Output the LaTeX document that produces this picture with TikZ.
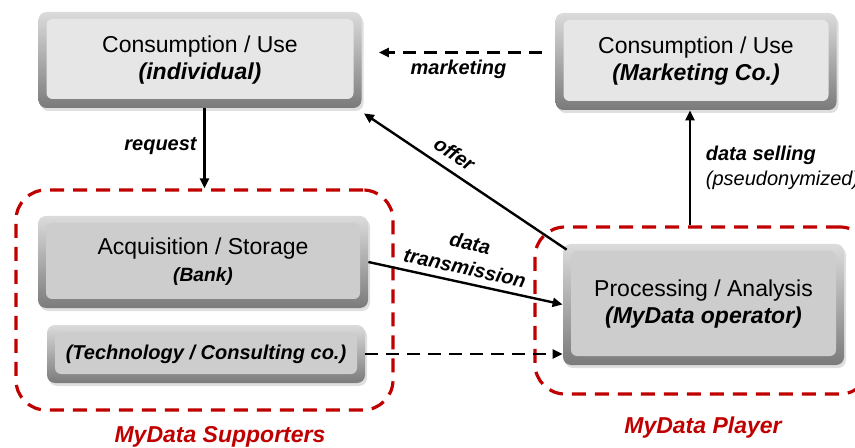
\documentclass[tikz,border=0pt]{standalone}
\usepackage{fontspec}
\setmainfont{Liberation Sans}
\usepackage{xcolor}
\definecolor{mdred}{HTML}{C00000}
\definecolor{faceA}{HTML}{E6E6E6}
\definecolor{faceB}{HTML}{CDCDCD}
\usetikzlibrary{shadows,arrows.meta}

\begin{document}
\begin{tikzpicture}[
    x=0.5pt, y=-0.5pt,
    box/.style={rounded corners=4pt, top color=black!14, bottom color=black!52, align=center,
        font=\fontsize{11.5}{13.5}\selectfont, inner sep=0pt,
        drop shadow={opacity=0.25, shadow xshift=1pt, shadow yshift=-1.5pt},
        path picture={\fill[#1, rounded corners=3pt]
            ([shift={(4pt,-3.5pt)}]path picture bounding box.north west) rectangle
            ([shift={(-4pt,4.5pt)}]path picture bounding box.south east);}},
    box/.default=faceB,
    grp/.style={draw=mdred, line width=1.6pt, dash pattern=on 7pt off 4.5pt, rounded corners=15pt},
    grplabel/.style={text=mdred, font=\fontsize{11.5}{14}\selectfont\bfseries\itshape},
    arr/.style={-{Triangle[length=5pt,width=4.5pt]}, line width=1.2pt},
    dsh/.style={dash pattern=on 6.5pt off 4pt},
    lbl/.style={font=\fontsize{10}{12.5}\selectfont\bfseries\itshape}
]
\useasboundingbox (0,0) rectangle (855,448);

% groups
\node[grp, minimum width=188.5pt, minimum height=110pt] (sup) at (204.5,300) {};
\node[grp, minimum width=167.5pt, minimum height=83.5pt] (ply) at (702.5,310.5) {};
\node[grplabel] (lsup) at (220,437) {MyData Supporters};
\node[grplabel] (lply) at (703,428) {MyData Player};

% boxes
\node[box=faceA, minimum width=161.5pt, minimum height=48pt] (cind) at (200,60) {Consumption / Use\\{\bfseries\itshape (individual)}};
\node[box=faceA, minimum width=140.5pt, minimum height=48.5pt] (cmkt) at (696,61.5) {Consumption / Use\\{\bfseries\itshape (Marketing Co.)}};
\node[box, minimum width=165pt, minimum height=46pt] (acq) at (203,262) {Acquisition / Storage\\{\fontsize{9.6}{12}\selectfont\bfseries\itshape (Bank)}};
\node[box, minimum width=159pt, minimum height=29pt, font=\fontsize{10}{12}\selectfont\bfseries\itshape] (tech) at (206,354) {(Technology / Consulting co.)};
\node[box, minimum width=140.5pt, minimum height=60.5pt] (proc) at (703.5,304.5) {Processing / Analysis\\{\bfseries\itshape (MyData operator)}};

% connectors
\draw[arr] (sup.north |- cind.south) -- (sup.north) node[lbl, left, pos=0.47] {request};

\coordinate (mk) at ([yshift=4.5pt]cmkt.west);
\draw[arr, dsh, shorten <=6.5pt, shorten >=8.5pt] (mk) -- (mk -| cind.east) node[lbl, midway, below] {marketing};

\draw[arr] ([shift={(2pt,-3pt)}]proc.north west) -- ([shift={(1pt,-2.5pt)}]cind.south east) node[lbl, pos=0.6, above=1pt, sloped] {offer};

\draw[arr] (acq.east) -- (proc.west) node[lbl, pos=0.48, above, sloped, align=center] {data\\transmission};

\draw[arr, dsh] (tech.east) -- (tech.east -| proc.west);

\coordinate (ds) at ([xshift=-3pt]cmkt.south);
\draw[arr] (ds |- ply.north) -- (ds) node[pos=0.5, right=4pt, align=left, font=\fontsize{10}{12.5}\selectfont] {{\bfseries\itshape data selling}\\{\itshape (pseudonymized)}};
\end{tikzpicture}
\end{document}
